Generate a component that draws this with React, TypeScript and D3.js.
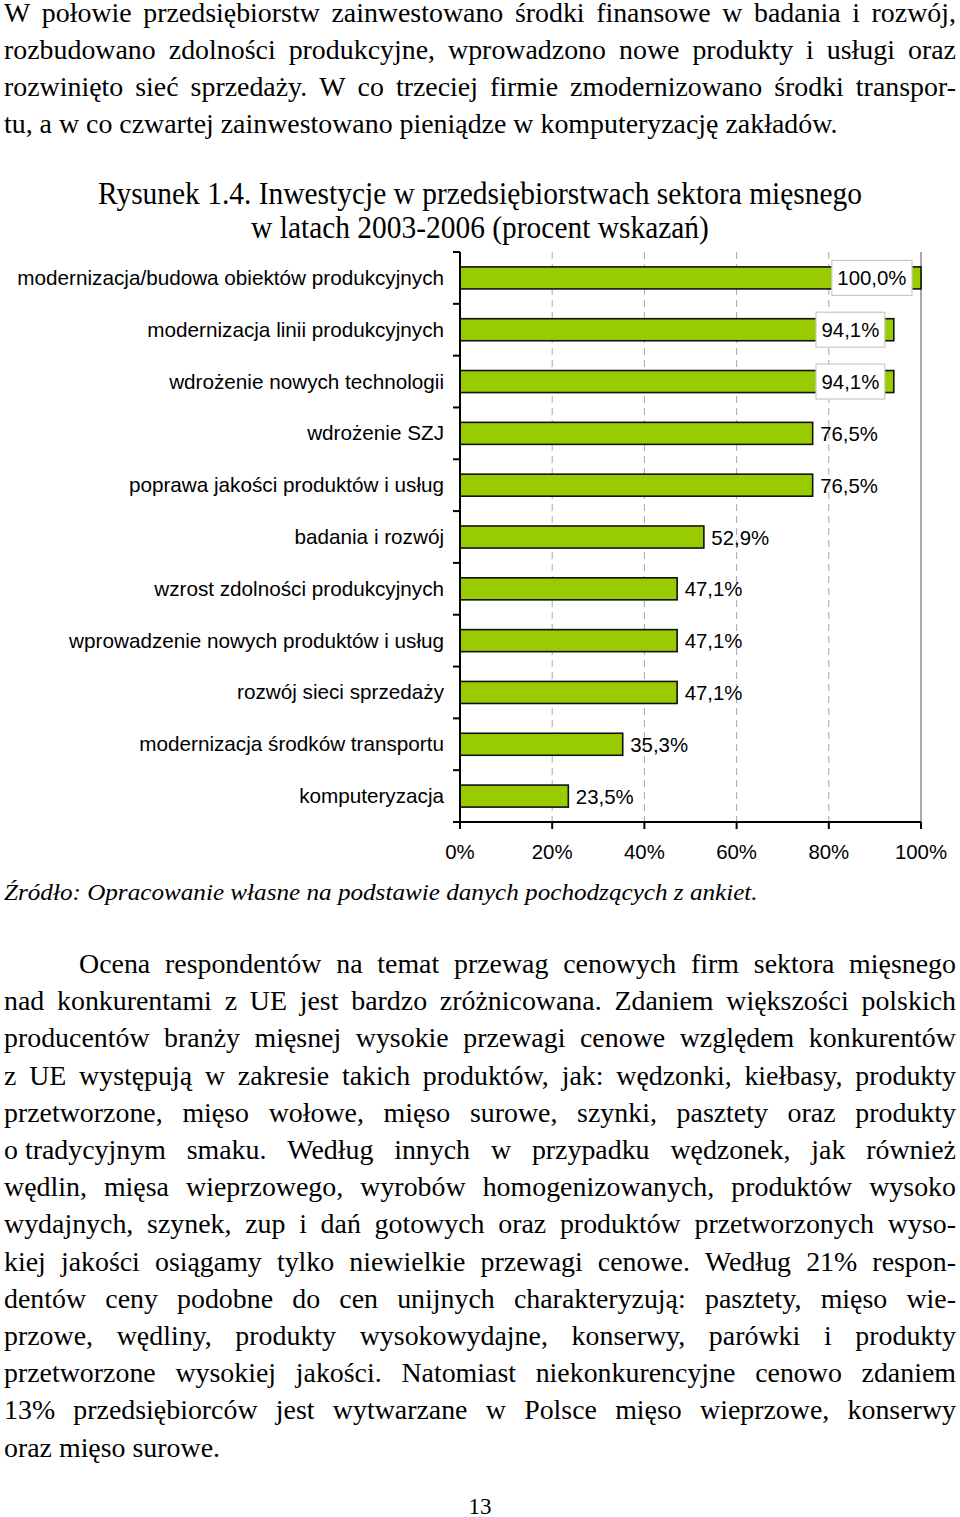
import React from 'react';
import * as d3 from 'd3';

const categories = [
  'modernizacja/budowa obiektów produkcyjnych',
  'modernizacja linii produkcyjnych',
  'wdrożenie nowych technologii',
  'wdrożenie SZJ',
  'poprawa jakości produktów i usług',
  'badania i rozwój',
  'wzrost zdolności produkcyjnych',
  'wprowadzenie nowych produktów i usług',
  'rozwój sieci sprzedaży',
  'modernizacja środków transportu',
  'komputeryzacja',
];
const values = [100.0, 94.1, 94.1, 76.5, 76.5, 52.9, 47.1, 47.1, 47.1, 35.3, 23.5];
const xTicks = [0, 20, 40, 60, 80, 100];
const xTickLabels = ['0%', '20%', '40%', '60%', '80%', '100%'];

const introLines = [
  'W połowie przedsiębiorstw zainwestowano środki finansowe w badania i rozwój,',
  'rozbudowano zdolności produkcyjne, wprowadzono nowe produkty i usługi oraz',
  'rozwinięto sieć sprzedaży. W co trzeciej firmie zmodernizowano środki transpor-',
  'tu, a w co czwartej zainwestowano pieniądze w komputeryzację zakładów.',
];
const titleLines = [
  'Rysunek 1.4. Inwestycje w przedsiębiorstwach sektora mięsnego',
  'w latach 2003-2006 (procent wskazań)',
];
const sourceText = 'Źródło: Opracowanie własne na podstawie danych pochodzących z ankiet.';
const bodyLines = [
  'Ocena respondentów na temat przewag cenowych firm sektora mięsnego',
  'nad konkurentami z UE jest bardzo zróżnicowana. Zdaniem większości polskich',
  'producentów branży mięsnej wysokie przewagi cenowe względem konkurentów',
  'z UE występują w zakresie takich produktów, jak: wędzonki, kiełbasy, produkty',
  'przetworzone, mięso wołowe, mięso surowe, szynki, pasztety oraz produkty',
  'o\u00a0tradycyjnym smaku. Według innych w przypadku wędzonek, jak również',
  'wędlin, mięsa wieprzowego, wyrobów homogenizowanych, produktów wysoko',
  'wydajnych, szynek, zup i dań gotowych oraz produktów przetworzonych wyso-',
  'kiej jakości osiągamy tylko niewielkie przewagi cenowe. Według 21% respon-',
  'dentów ceny podobne do cen unijnych charakteryzują: pasztety, mięso wie-',
  'przowe, wędliny, produkty wysokowydajne, konserwy, parówki i produkty',
  'przetworzone wysokiej jakości. Natomiast niekonkurencyjne cenowo zdaniem',
  '13% przedsiębiorców jest wytwarzane w Polsce mięso wieprzowe, konserwy',
  'oraz mięso surowe.',
];
const pageNumber = '13';

const W = 960;
const H = 1517;
const SERIF = 'Liberation Serif';
const SANS = 'Liberation Sans';
const BODY_SIZE = 27;
const BODY_SX = 1.033;

let ctx: CanvasRenderingContext2D | null = null;
function measure(text: string, font: string): number {
  if (!ctx) ctx = document.createElement('canvas').getContext('2d');
  if (!ctx) return text.length * 12;
  ctx.font = font;
  return ctx.measureText(text).width;
}

function TextLine({ text, x0, x1, y, size, sx, justify, indent = 0, italic = false }: any) {
  const font = `${italic ? 'italic ' : ''}${size}px "${SERIF}"`;
  const start = x0 + indent;
  const avail = (x1 - start) / sx;
  const style = italic ? 'italic' : 'normal';
  if (!justify) {
    return (
      <g transform={`translate(${start},${y}) scale(${sx},1)`}>
        <text x={0} y={0} fontFamily={SERIF} fontStyle={style} fontSize={size} fill="#000">
          {text}
        </text>
      </g>
    );
  }
  const words = text.split(' ');
  const widths = words.map((w: string) => measure(w, font));
  const total = widths.reduce((a: number, b: number) => a + b, 0);
  const gap = words.length > 1 ? (avail - total) / (words.length - 1) : 0;
  let x = 0;
  return (
    <g transform={`translate(${start},${y}) scale(${sx},1)`}>
      <text y={0} fontFamily={SERIF} fontStyle={style} fontSize={size} fill="#000">
        {words.map((w: string, i: number) => {
          const el = (
            <tspan key={i} x={x}>
              {w}
            </tspan>
          );
          x += widths[i] + gap;
          return el;
        })}
      </text>
    </g>
  );
}

function fmt(v: number) {
  return v.toFixed(1).replace('.', ',') + '%';
}

export default function App() {
  const left = 460;
  const right = 921;
  const top = 252;
  const bottom = 822;
  const x = d3.scaleLinear().domain([0, 100]).range([left, right]);
  const y = d3
    .scaleBand<string>()
    .domain(categories)
    .range([top, bottom])
    .paddingInner(0.575)
    .paddingOuter(0.2875);
  const step = y.step();
  const labelSize = 20.7;
  const valueSize = 20.4;
  const valueFont = `${valueSize}px "${SANS}"`;

  const textLeft = 4;
  const textRight = 956;
  const lh = 37.2;

  const titleSize = 32;
  const titleCondense = 0.92;

  return (
    <svg
      width={W}
      height={H}
      style={{ position: 'absolute', left: 0, top: 0, background: '#fff' }}
    >
      <rect x={0} y={0} width={W} height={H} fill="#fff" />
      {introLines.map((t, i) => (
        <TextLine
          key={'i' + i}
          text={t}
          x0={textLeft}
          x1={textRight}
          y={21.5 + i * 37}
          size={BODY_SIZE}
          sx={BODY_SX}
          justify={i < introLines.length - 1}
        />
      ))}
      {titleLines.map((t, i) => {
        const nat = measure(t, `${titleSize}px "${SERIF}"`);
        return (
          <text
            key={'t' + i}
            x={480}
            y={204 + i * 34}
            textAnchor="middle"
            fontFamily={SERIF}
            fontSize={titleSize}
            textLength={nat * titleCondense}
            lengthAdjust="spacingAndGlyphs"
            fill="#000"
          >
            {t}
          </text>
        );
      })}

      {/* gridlines */}
      {xTicks
        .filter((t) => t > 0 && t < 100)
        .map((t) => (
          <line
            key={'g' + t}
            x1={x(t)}
            x2={x(t)}
            y1={top}
            y2={bottom}
            stroke="#a8a8a8"
            strokeWidth={1}
            strokeDasharray="7,5"
          />
        ))}
      <line x1={x(100)} x2={x(100)} y1={top} y2={bottom} stroke="#8c8c8c" strokeWidth={1.5} />

      {/* bars */}
      {categories.map((c, i) => (
        <rect
          key={'b' + i}
          x={x(0)}
          y={y(c)}
          width={x(values[i]) - x(0)}
          height={y.bandwidth()}
          fill="#99cc00"
          stroke="#111"
          strokeWidth={1.6}
        />
      ))}

      {/* axes */}
      <line x1={left} x2={left} y1={top} y2={bottom} stroke="#000" strokeWidth={2} />
      <line x1={left - 7} x2={right} y1={bottom} y2={bottom} stroke="#000" strokeWidth={2} />
      {d3.range(categories.length + 1).map((k) => (
        <line
          key={'yt' + k}
          x1={left - 7}
          x2={left}
          y1={top + k * step}
          y2={top + k * step}
          stroke="#000"
          strokeWidth={2}
        />
      ))}
      {xTicks.map((t, i) => (
        <g key={'xt' + t}>
          <line x1={x(t)} x2={x(t)} y1={bottom} y2={bottom + 7} stroke="#000" strokeWidth={2} />
          <text
            x={x(t)}
            y={bottom + 37}
            textAnchor="middle"
            fontFamily={SANS}
            fontSize={valueSize}
            fill="#000"
          >
            {xTickLabels[i]}
          </text>
        </g>
      ))}

      {/* category labels */}
      {categories.map((c, i) => (
        <text
          key={'c' + i}
          x={444}
          y={(y(c) as number) + y.bandwidth() / 2 + 7}
          textAnchor="end"
          fontFamily={SANS}
          fontSize={labelSize}
          fill="#000"
        >
          {c}
        </text>
      ))}

      {/* value labels */}
      {categories.map((c, i) => {
        const v = values[i];
        const label = fmt(v);
        const cy = (y(c) as number) + y.bandwidth() / 2;
        const tw = measure(label, valueFont);
        if (v > 90) {
          const bw = tw + 11;
          const bx = x(v) - 9 - bw;
          return (
            <g key={'v' + i}>
              <rect
                x={bx}
                y={cy - 17.5}
                width={bw}
                height={35}
                fill="#fff"
                stroke="#c8c8c8"
                strokeWidth={1.2}
              />
              <text
                x={bx + bw / 2}
                y={cy + 7.5}
                textAnchor="middle"
                fontFamily={SANS}
                fontSize={valueSize}
                fill="#000"
              >
                {label}
              </text>
            </g>
          );
        }
        return (
          <text
            key={'v' + i}
            x={x(v) + 7.5}
            y={cy + 7.5}
            fontFamily={SANS}
            fontSize={valueSize}
            fill="#000"
          >
            {label}
          </text>
        );
      })}

      <TextLine
        text={sourceText}
        x0={4}
        x1={757}
        y={900}
        size={24}
        sx={1.048}
        italic={true}
        justify={false}
      />

      {bodyLines.map((t, i) => (
        <TextLine
          key={'p' + i}
          text={t}
          x0={textLeft}
          x1={textRight}
          y={973 + i * lh}
          size={BODY_SIZE}
          sx={BODY_SX}
          indent={i === 0 ? 75 : 0}
          justify={i < bodyLines.length - 1}
        />
      ))}

      <text x={480} y={1514} textAnchor="middle" fontFamily={SERIF} fontSize={23} fill="#000">
        {pageNumber}
      </text>
    </svg>
  );
}
